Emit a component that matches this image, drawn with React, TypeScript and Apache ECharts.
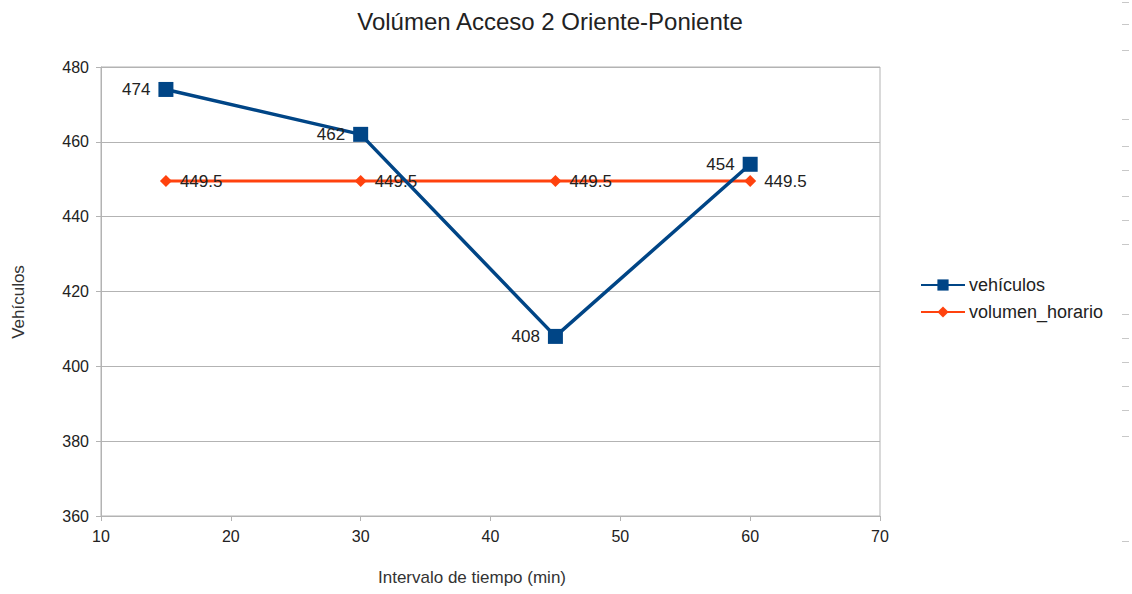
import React, { useEffect, useRef } from "react";
import * as echarts from "echarts";

const xValues = [15, 30, 45, 60];
const vehiculos = [474, 462, 408, 454];
const volumenHorario = [449.5, 449.5, 449.5, 449.5];
const seriesNames = ["vehículos", "volumen_horario"];
const titleText = "Volúmen Acceso 2 Oriente-Poniente";
const yAxisTitle = "Vehículos";
const xAxisTitle = "Intervalo de tiempo (min)";
const sideDashes = [2, 24, 50, 119, 146, 170, 196, 220, 244, 314, 338, 362, 386, 410, 436, 541];

const FONT = "'Liberation Sans', Arial, sans-serif";

export default function App() {
  const ref = useRef<HTMLDivElement>(null);
  useEffect(() => {
    if (!ref.current) return;
    const chart = echarts.init(ref.current, undefined, { renderer: "svg" });
    const graphics: any[] = [
      {
        type: "text",
        x: 550,
        y: 21,
        style: { text: titleText, font: `24px ${FONT}`, fill: "#222", textAlign: "center", textVerticalAlign: "middle" },
      },
      {
        type: "text",
        x: 18,
        y: 302,
        rotation: Math.PI / 2,
        style: { text: yAxisTitle, font: `17px ${FONT}`, fill: "#333", textAlign: "center", textVerticalAlign: "middle" },
      },
      {
        type: "text",
        x: 472,
        y: 577,
        style: { text: xAxisTitle, font: `17px ${FONT}`, fill: "#333", textAlign: "center", textVerticalAlign: "middle" },
      },
      ...sideDashes.map((y) => ({
        type: "line",
        shape: { x1: 1122, y1: y + 0.5, x2: 1129, y2: y + 0.5 },
        style: { stroke: "#c8c8c8", lineWidth: 1 },
      })),
    ];
    chart.setOption({
      animation: false,
      textStyle: { fontFamily: FONT },
      grid: { left: 101, right: 252, top: 67, bottom: 78, show: true, borderColor: "#b3b3b3", borderWidth: 1 },
      legend: {
        orient: "vertical",
        left: 920,
        top: 276,
        padding: 0,
        itemWidth: 44,
        itemHeight: 14,
        itemGap: 9,
        textStyle: { fontSize: 18, color: "#222", fontFamily: FONT, padding: [0, 0, 0, -1] },
        data: seriesNames,
      },
      xAxis: {
        type: "value",
        min: 10,
        max: 70,
        interval: 10,
        axisLine: { show: true, lineStyle: { color: "#b3b3b3" } },
        axisTick: { show: true, length: 5, lineStyle: { color: "#b3b3b3" } },
        axisLabel: { fontSize: 16, color: "#222", margin: 12 },
        splitLine: { show: false },
      },
      yAxis: {
        type: "value",
        min: 360,
        max: 480,
        interval: 20,
        axisLine: { show: true, lineStyle: { color: "#b3b3b3" } },
        axisTick: { show: true, length: 5, lineStyle: { color: "#b3b3b3" } },
        axisLabel: { fontSize: 16, color: "#222", margin: 12 },
        splitLine: { show: true, lineStyle: { color: "#b3b3b3" } },
      },
      series: [
        {
          name: seriesNames[0],
          type: "line",
          data: xValues.map((x, i) => [x, vehiculos[i]]),
          symbol: "rect",
          symbolSize: 15,
          itemStyle: { color: "#004586" },
          lineStyle: { color: "#004586", width: 3.5 },
          label: { show: true, position: "left", distance: 8, fontSize: 17, color: "#222", formatter: (p: any) => String(p.value[1]) },
          z: 3,
        },
        {
          name: seriesNames[1],
          type: "line",
          data: xValues.map((x, i) => [x, volumenHorario[i]]),
          symbol: "diamond",
          symbolSize: 12,
          itemStyle: { color: "#ff420e" },
          lineStyle: { color: "#ff420e", width: 3 },
          label: { show: true, position: "right", distance: 8, fontSize: 17, color: "#222", formatter: (p: any) => String(p.value[1]) },
          z: 2,
        },
      ],
      graphic: graphics,
    });
    return () => chart.dispose();
  }, []);
  return <div ref={ref} style={{ position: "absolute", left: 0, top: 0, width: 1132, height: 594, background: "#fff" }} />;
}
